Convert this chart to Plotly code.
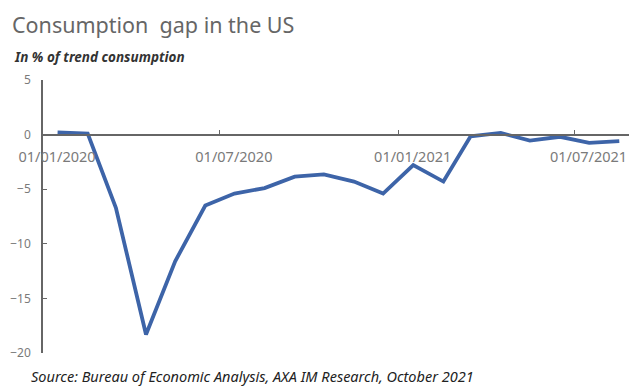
import pandas as pd
import plotly.graph_objects as go

# Monthly consumption gap, % of trend consumption (Jan 2020 - Aug 2021)
months = pd.date_range("2020-01-01", "2021-08-01", freq="MS")
gap = [0.2, 0.1, -6.7, -18.3, -11.6, -6.5, -5.4, -4.9, -3.85, -3.65,
       -4.3, -5.4, -2.8, -4.3, -0.15, 0.15, -0.55, -0.2, -0.75, -0.6]

tick_dates = ["2020-01-01", "2020-07-01", "2021-01-01", "2021-07-01"]
y_ticks = [5, 0, -5, -10, -15, -20]

# each monthly observation sits in the middle of its month
x_mid = months + pd.Timedelta(days=15)

fig = go.Figure()
fig.add_trace(go.Scatter(
    x=x_mid, y=gap, mode="lines",
    line=dict(color="#3D64A8", width=3.8),
    hoverinfo="skip",
))

axis_grey = "#666666"
fig.update_layout(
    width=629, height=387,
    margin=dict(l=43, r=0, t=80, b=34),
    paper_bgcolor="white", plot_bgcolor="white",
    showlegend=False,
    font=dict(family="Noto Sans", color="#7a7a7a"),
    xaxis=dict(
        type="date",
        range=["2020-01-01", "2021-08-26"],
        tickvals=tick_dates,
        tickformat="%d/%m/%Y",
        anchor="free", position=0.8,
        showline=True, linecolor=axis_grey, linewidth=1.5,
        ticks="inside", ticklen=4, tickcolor=axis_grey,
        showgrid=False, zeroline=False,
        tickfont=dict(size=14.5, color="#7a7a7a"),
        ticklabelstandoff=9, ticklabelshift=14,
    ),
    yaxis=dict(
        range=[-20, 5],
        tickvals=y_ticks,
        showline=True, linecolor=axis_grey, linewidth=1.5,
        ticks="inside", ticklen=4, tickcolor=axis_grey,
        showgrid=False, zeroline=False,
        tickfont=dict(size=12, color="#7a7a7a"),
        ticklabelstandoff=8,
    ),
)

fig.add_annotation(
    text="Consumption  gap in the US", xref="paper", yref="paper",
    x=-33 / 586, y=1 + 56 / 273, xanchor="left", yanchor="middle",
    showarrow=False, font=dict(family="Noto Sans", size=21.5, color="#666666"),
)
fig.add_annotation(
    text="<b><i>In % of trend consumption</i></b>", xref="paper", yref="paper",
    x=-31 / 586, y=1 + 23 / 273, xanchor="left", yanchor="middle",
    showarrow=False, font=dict(family="Noto Sans", size=13.5, color="#333333"),
)
fig.add_annotation(
    text="<i>Source: Bureau of Economic Analysis, AXA IM Research, October 2021</i>",
    xref="paper", yref="paper",
    x=-14 / 586, y=-23 / 273, xanchor="left", yanchor="middle",
    showarrow=False, font=dict(family="Noto Sans", size=14.5, color="#222222"),
)

fig.write_html("out.html")
